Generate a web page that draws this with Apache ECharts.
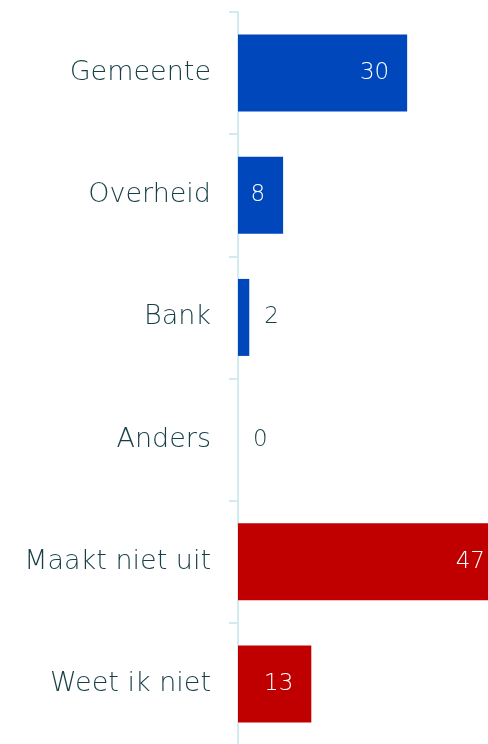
<!DOCTYPE html>
<html>
<head>
<meta charset="utf-8">
<script src="https://cdn.jsdelivr.net/npm/echarts@6/dist/echarts.min.js"></script>
<style>
html,body{margin:0;padding:0;background:#fff;}
#chart{width:488px;height:744px;}
</style>
</head>
<body>
<div id="chart"></div>
<script>
var categories = ['Gemeente', 'Overheid', 'Bank', 'Anders', 'Maakt niet uit', 'Weet ik niet'];
var values = [30, 8, 2, 0, 47, 13];
var colors = ['#0047BB', '#0047BB', '#0047BB', '#0047BB', '#C00000', '#C00000'];

var myChart = echarts.init(document.getElementById('chart'));

var seriesData = [];
for (var i = 0; i < values.length; i++) {
    var inside = values[i] > 5;
    seriesData.push({
        value: values[i],
        itemStyle: {color: colors[i]},
        label: {
            position: inside ? 'insideRight' : 'right',
            distance: inside ? 18 : 15,
            color: inside ? '#ffffff' : '#173f47'
        }
    });
}

var option = {
    animation: false,
    grid: {
        left: 238,
        width: 265,
        top: 12,
        height: 733,
        outerBoundsMode: 'none'
    },
    xAxis: {
        type: 'value',
        min: 0,
        max: 47,
        show: false
    },
    yAxis: {
        type: 'category',
        inverse: true,
        data: categories,
        axisLine: {
            show: true,
            lineStyle: {color: '#d0ecf0', width: 2}
        },
        axisTick: {
            show: true,
            length: 9,
            lineStyle: {color: '#d0ecf0', width: 2}
        },
        axisLabel: {
            margin: 27,
            fontFamily: 'DejaVu Sans',
            fontSize: 27,
            fontWeight: 200,
            color: '#173f47'
        }
    },
    series: [
        {
            type: 'bar',
            barWidth: 77,
            data: seriesData,
            label: {
                show: true,
                fontFamily: 'DejaVu Sans',
                fontSize: 23,
                fontWeight: 200
            }
        }
    ]
};
myChart.setOption(option);
</script>
</body>
</html>
